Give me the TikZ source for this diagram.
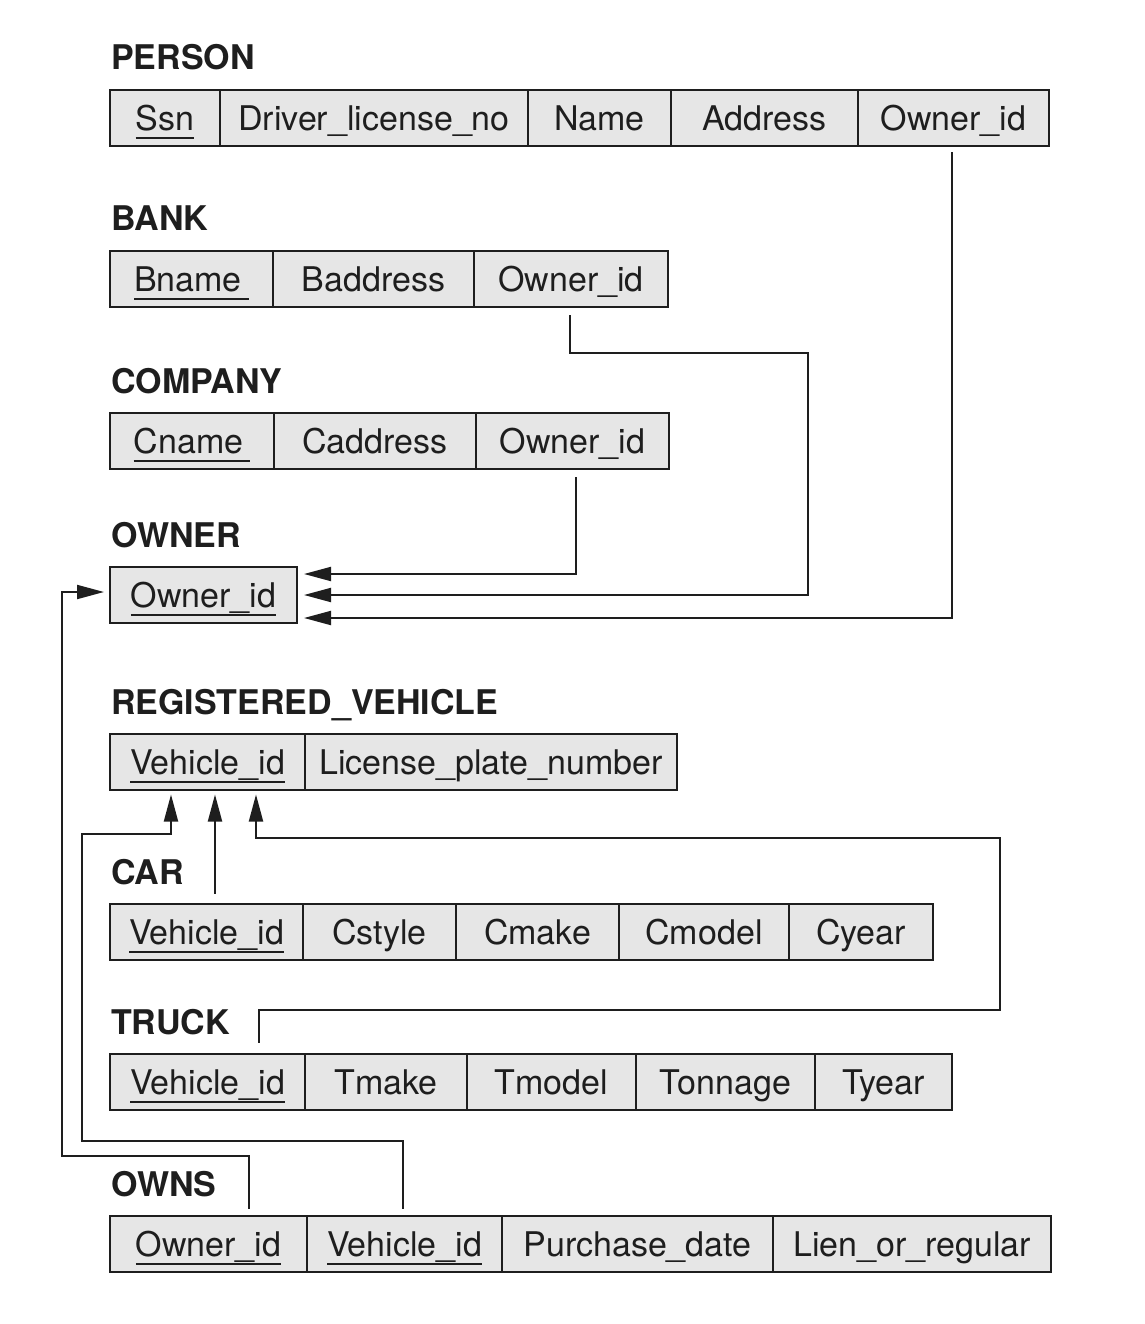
\documentclass[tikz,border=0pt]{standalone}
\usepackage{fontspec}
\setmainfont{TeX Gyre Heros}
\usetikzlibrary{arrows.meta}
\newcommand{\ukey}[1]{\setbox0=\hbox{#1}\rlap{\rule[-8.5pt]{\wd0}{2pt}}\box0}
\definecolor{ink}{HTML}{1E1E1E}
\definecolor{cellfill}{HTML}{E6E6E6}
\begin{document}
\begin{tikzpicture}[x=1pt,y=-1pt,
  font=\fontsize{34}{40}\selectfont,
  cell/.style={draw=ink,fill=cellfill,line width=2pt,minimum height=56pt,inner sep=0pt,
    text height=29pt,text depth=4pt,anchor=center,text=ink},
  reltitle/.style={anchor=base west,inner sep=0pt,font=\fontsize{34}{40}\selectfont\bfseries,text=ink},
  link/.style={draw=ink,line width=2pt},
  arr/.style={link,-{Triangle[length=27pt,width=14pt]}}]
\useasboundingbox (0,0) rectangle (1144,1324);

% PERSON
\node[reltitle] (tperson) at (111,70) {PERSON};
\node[cell,minimum width=110pt] (p1) at (165,118.5) {\ukey{Ssn}};
\node[cell,minimum width=308pt] (p2) at (374,118.5) {Driver\_license\_no};
\node[cell,minimum width=143pt] (p3) at (599.5,118.5) {Name};
\node[cell,minimum width=187pt] (p4) at (764.5,118.5) {Address};
\node[cell,minimum width=191pt] (p5) at (953.5,118.5) {Owner\_id};

% BANK
\node[reltitle] (tbank) at (111,231) {BANK};
\node[cell,minimum width=163pt] (b1) at (191.5,279) {\ukey{Bname\hspace{7pt}}};
\node[cell,minimum width=201pt] (b2) at (373.5,279) {Baddress};
\node[cell,minimum width=194pt] (b3) at (571,279) {Owner\_id};

% COMPANY
\node[reltitle] (tcompany) at (111,393) {COMPANY};
\node[cell,minimum width=164pt] (c1) at (192,441) {\ukey{Cname\hspace{7pt}}};
\node[cell,minimum width=202pt] (c2) at (375,441) {Caddress};
\node[cell,minimum width=193pt] (c3) at (572.5,441) {Owner\_id};

% OWNER
\node[reltitle] (towner) at (111,547) {OWNER};
\node[cell,minimum width=187pt] (o1) at (203.5,595) {\ukey{Owner\_id}};

% REGISTERED_VEHICLE
\node[reltitle] (trv) at (111,714) {REGISTERED\_VEHICLE};
\node[cell,minimum width=195pt] (r1) at (207.5,761.5) {\ukey{Vehicle\_id}};
\node[cell,minimum width=372pt] (r2) at (491,761.5) {License\_plate\_number};

% CAR
\node[reltitle] (tcar) at (111,884) {CAR};
\node[cell,minimum width=193pt] (car1) at (206.5,931.5) {\ukey{Vehicle\_id}};
\node[cell,minimum width=153pt] (car2) at (379.5,931.5) {Cstyle};
\node[cell,minimum width=163pt] (car3) at (537.5,931.5) {Cmake};
\node[cell,minimum width=170pt] (car4) at (704,931.5) {Cmodel};
\node[cell,minimum width=144pt] (car5) at (861,931.5) {Cyear};

% TRUCK
\node[reltitle] (ttruck) at (111,1034) {TRUCK};
\node[cell,minimum width=195pt] (t1) at (207.5,1081.5) {\ukey{Vehicle\_id}};
\node[cell,minimum width=162pt] (t2) at (386,1081.5) {Tmake};
\node[cell,minimum width=169pt] (t3) at (551.5,1081.5) {Tmodel};
\node[cell,minimum width=179pt] (t4) at (725.5,1081.5) {Tonnage};
\node[cell,minimum width=137pt] (t5) at (883.5,1081.5) {Tyear};

% OWNS
\node[reltitle] (towns) at (111,1196) {OWNS};
\node[cell,minimum width=197pt] (w1) at (208.5,1243.5) {\ukey{Owner\_id}};
\node[cell,minimum width=195pt] (w2) at (404.5,1243.5) {\ukey{Vehicle\_id}};
\node[cell,minimum width=271pt] (w3) at (637.5,1243.5) {Purchase\_date};
\node[cell,minimum width=278pt] (w4) at (912,1243.5) {Lien\_or\_regular};

% connectors to OWNER
\draw[arr] ([xshift=-1.5pt,yshift=-5pt]p5.south) |- ([xshift=6pt,yshift=-23pt]o1.east);
\draw[arr] ([xshift=-1pt,yshift=-7pt]b3.south) |- (808,353) |- ([xshift=6pt]o1.east);
\draw[arr] ([xshift=3pt,yshift=-7pt]c3.south) |- ([xshift=6pt,yshift=21pt]o1.east);
\draw[arr] ([xshift=40.5pt,yshift=6pt]w1.north) |- (62,1156) |- ([xshift=-5pt,yshift=3pt]o1.west);

% connectors to REGISTERED_VEHICLE
\draw[arr] ([xshift=-1.5pt,yshift=6pt]w2.north) |- (82,1141) |- (171,834) -- ([xshift=-36.5pt,yshift=-4pt]r1.south);
\draw[arr] ([xshift=8.5pt,yshift=9pt]car1.north) -- ([xshift=7.5pt,yshift=-4pt]r1.south);
\draw[arr] ([xshift=51.5pt,yshift=10pt]t1.north) |- (1000,1010) |- (256,838) -- ([xshift=48.5pt,yshift=-4pt]r1.south);
\end{tikzpicture}
\end{document}
